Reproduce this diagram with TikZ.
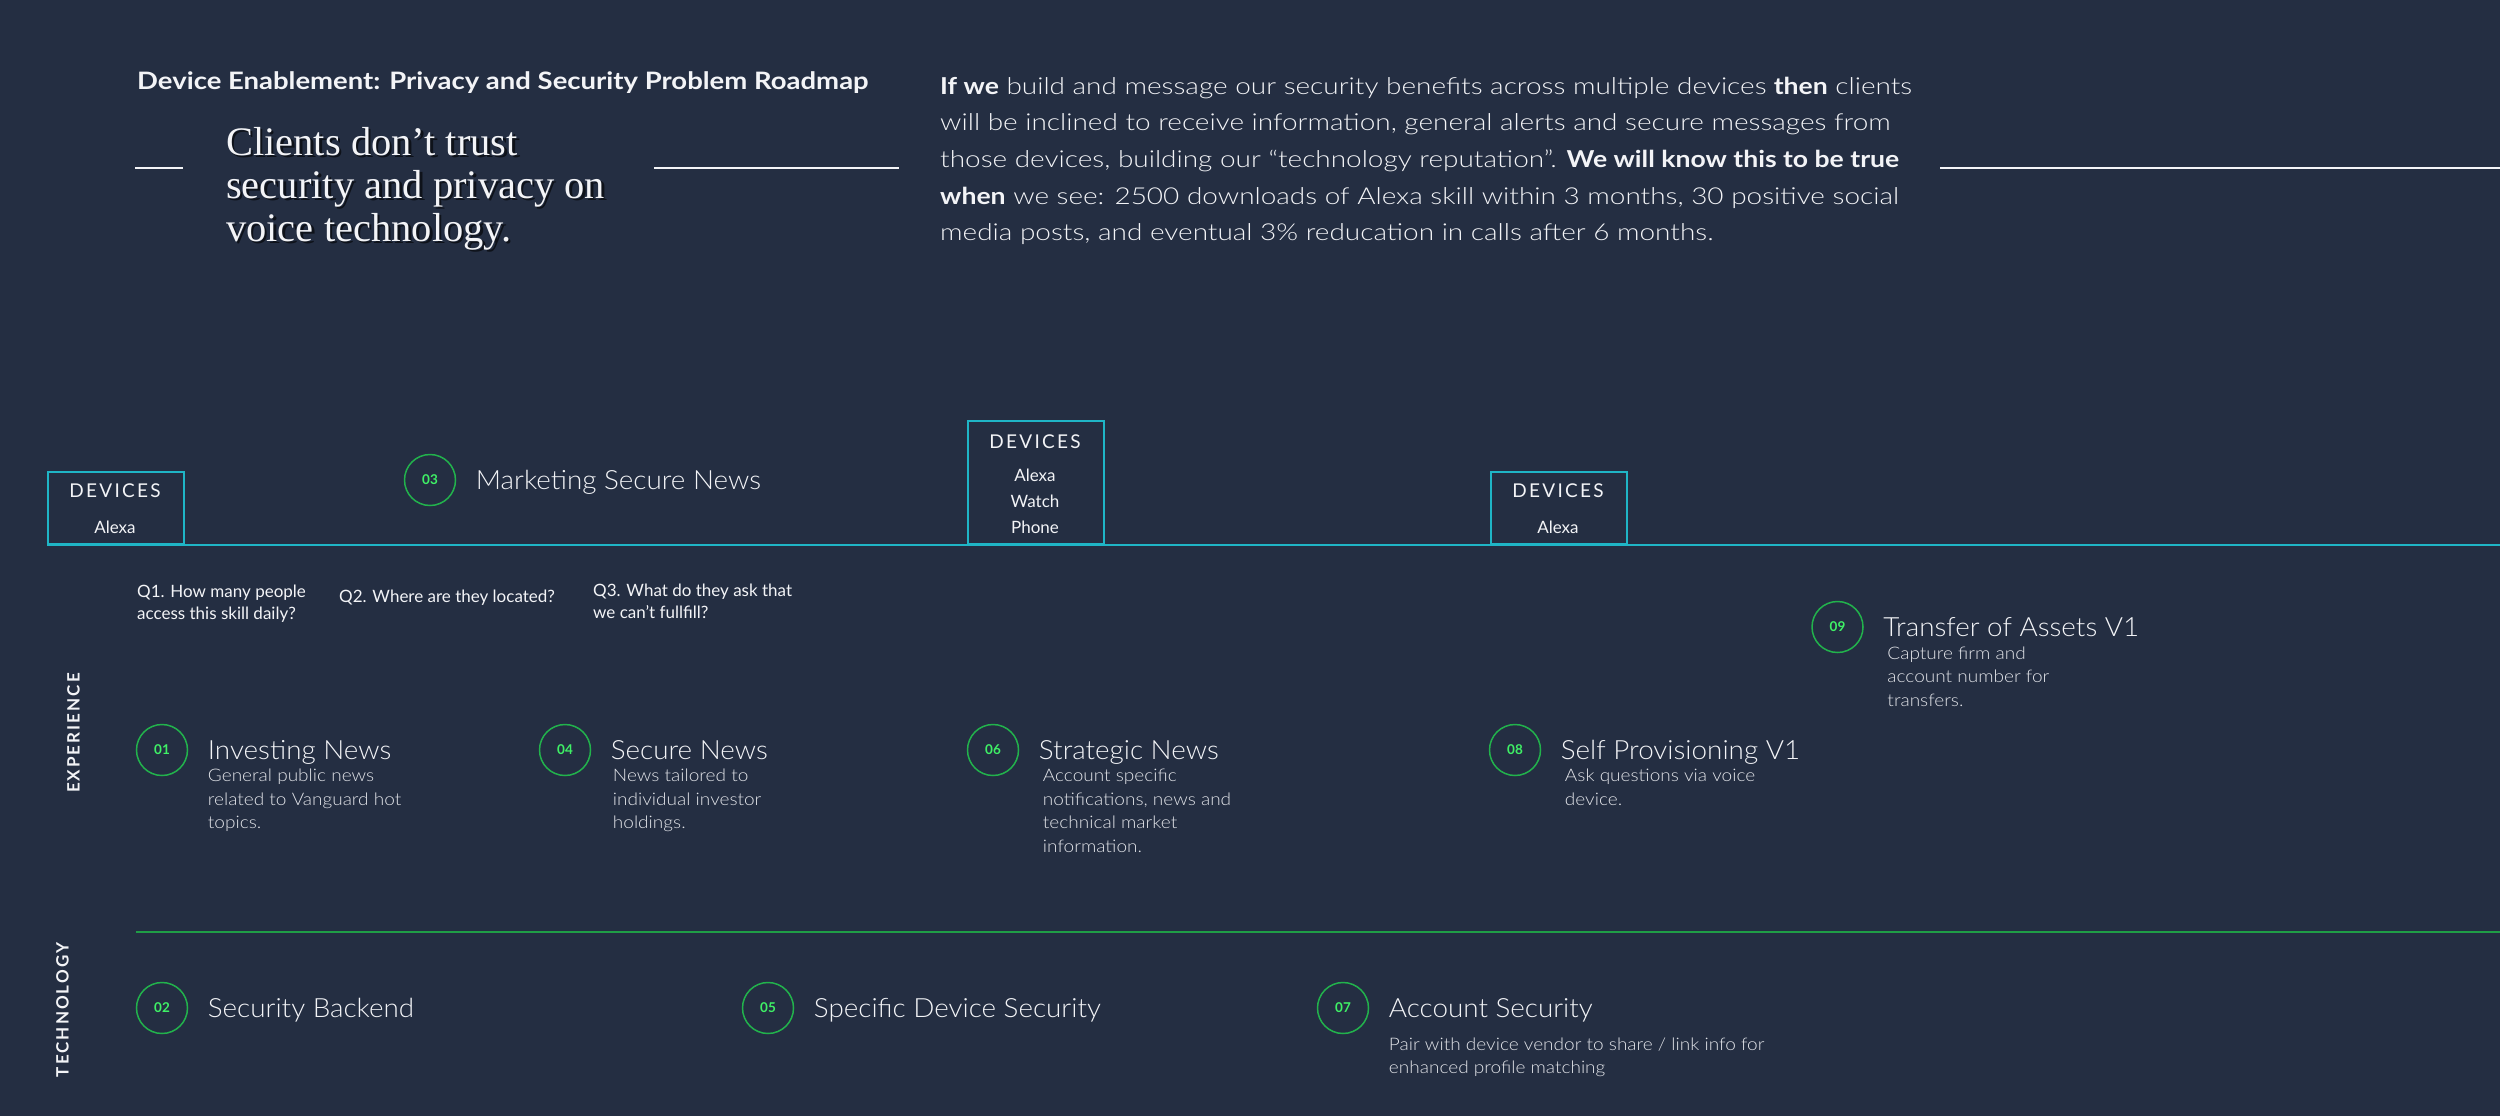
\documentclass[tikz,border=0pt]{standalone}
\usepackage{fontspec}
\setmainfont{Lato}
\newfontfamily\parf{Lato Light}[FakeStretch=1.2]
\newfontfamily\parbf{Lato Bold}[FakeStretch=1.14]
\newfontfamily\titlef{Lato Bold}[FakeStretch=1.145]
\newfontfamily\ttlf{Lato Light}[FakeStretch=1.05]
\newfontfamily\descf{Lato Light}[FakeStretch=1.1]
\newfontfamily\spacedf{Lato}[LetterSpace=12]
\newfontfamily\serifh{Liberation Serif}
\definecolor{bgc}{HTML}{242E42}
\definecolor{cyanc}{HTML}{1FB5C6}
\definecolor{ringc}{HTML}{22B24C}
\definecolor{numc}{HTML}{3FF066}
\definecolor{glinec}{HTML}{1F9E46}
\definecolor{txtc}{HTML}{F3F4F7}
\definecolor{descc}{HTML}{E2E4E9}
\newcommand\stack[1]{\vtop{\halign{##\hfil\cr#1\crcr}}}
\newcommand\hb[1]{{\parbf #1}}
\tikzset{
 ring/.style={circle, draw=ringc, line width=1.5pt, minimum size=51pt, inner sep=0pt, text=numc, font=\bfseries\fontsize{13.5}{15}\selectfont},
 ttl/.style={anchor=base west, inner sep=0pt, text=txtc, font=\ttlf\fontsize{26.5}{30}\selectfont},
 desc/.style={anchor=base west, inner sep=0pt, text=descc, font=\descf\fontsize{17.3}{23.5}\selectfont},
 ques/.style={anchor=base west, inner sep=0pt, text=txtc, font=\fontsize{17}{22.5}\selectfont},
 devbox/.style={draw=cyanc, line width=1.6pt, inner sep=0pt, anchor=south west},
 devhead/.style={anchor=base, inner sep=0pt, text=txtc, font=\spacedf\fontsize{19}{22}\selectfont},
 devitem/.style={anchor=base, inner sep=0pt, text=txtc, font=\fontsize{17}{20}\selectfont},
 lane/.style={rotate=90, inner sep=0pt, text=txtc, font=\spacedf\bfseries\fontsize{17}{20}\selectfont},
 rule/.style={line width=1.6pt, draw=txtc},
}
\begin{document}
\begin{tikzpicture}[x=1pt,y=-1pt]
\useasboundingbox (0,0) rectangle (2500,1116);
\fill[bgc] (0,0) rectangle (2500,1116);

% header
\node[anchor=base west, inner sep=0pt, text=txtc, font=\titlef\fontsize{24}{27}\selectfont] (title) at (137,89) {Device Enablement: Privacy and Security Problem Roadmap};
\node[anchor=base west, inner sep=0pt, text=black, opacity=0.6, font=\serifh\fontsize{40.5}{43}\selectfont] (claimsh) at (228.5,157.5) {\stack{Clients don’t trust\cr security and privacy on\cr voice technology.}};
\node[anchor=base west, inner sep=0pt, text=txtc, font=\serifh\fontsize{40.5}{43}\selectfont] (claim) at (226,155) {\stack{Clients don’t trust\cr security and privacy on\cr voice technology.}};
\draw[rule] (135,168) -- (183,168);
\draw[rule] (654,168) -- (899,168);
\draw[rule] (1940,168) -- (2500,168);
\node[anchor=base west, inner sep=0pt, text=txtc, font=\parf\fontsize{23.3}{36.6}\selectfont] (hyp) at (940,94.3) {\stack{\hb{If we} build and message our security benefits across multiple devices \hb{then} clients\cr will be inclined to receive information, general alerts and secure messages from\cr those devices, building our “technology reputation”. \hb{We will know this to be true}\cr \hb{when} we see: 2500 downloads of Alexa skill within 3 months, 30 positive social\cr media posts, and eventual 3\% reducation in calls after 6 months.}};

% devices boxes and the device line
\node[devbox, minimum width=136pt, minimum height=72.5pt] (dev1) at (47,545) {};
\node[devbox, minimum width=136pt, minimum height=123.5pt] (dev2) at (967,545) {};
\node[devbox, minimum width=136pt, minimum height=72.5pt] (dev3) at (1490,545) {};
\coordinate (cyanend) at (2500,545);
\draw[cyanc, line width=1.6pt] (dev1.south west) -- (cyanend);
\node[devhead] (dh1) at (115,497) {DEVICES};
\node[devitem] (di1) at (115,533) {Alexa};
\node[devhead] (dh2) at (1035,448) {DEVICES};
\node[devitem] (di2a) at (1035,481) {Alexa};
\node[devitem] (di2b) at (1035,507) {Watch};
\node[devitem] (di2c) at (1035,533) {Phone};
\node[devhead] (dh3) at (1558,497) {DEVICES};
\node[devitem] (di3) at (1558,533) {Alexa};

% questions
\node[ques] (q1) at (137,597) {\stack{Q1. How many people\cr access this skill daily?}};
\node[ques] (q2) at (339,602) {Q2. Where are they located?};
\node[ques] (q3) at (593,596) {\stack{Q3. What do they ask that\cr we can’t fullfill?}};

% lanes
\node[lane] (lexp) at (73.5,733) {EXPERIENCE};
\node[lane] (ltech) at (62.5,1010) {TECHNOLOGY};
\coordinate (gstart) at (136,932);
\coordinate (gend) at (2500,932);
\draw[glinec, line width=1.8pt] (gstart) -- (gend);

% items
\node[ring] (c03) at (430,480) {03};
\node[ttl] (t03) at ([xshift=19.5pt,yshift=-9pt]c03.east) {Marketing Secure News};

\node[ring] (c01) at (162,750) {01};
\node[ttl] (t01) at ([xshift=19.5pt,yshift=-9pt]c01.east) {Investing News};
\node[desc] (d01) at ([yshift=-22.7pt]t01.base west) {\stack{General public news\cr related to Vanguard hot\cr topics.}};

\node[ring] (c04) at (565,750) {04};
\node[ttl] (t04) at ([xshift=19.5pt,yshift=-9pt]c04.east) {Secure News};
\node[desc] (d04) at ([xshift=2pt,yshift=-22.7pt]t04.base west) {\stack{News tailored to\cr individual investor\cr holdings.}};

\node[ring] (c06) at (993,750) {06};
\node[ttl] (t06) at ([xshift=19.5pt,yshift=-9pt]c06.east) {Strategic News};
\node[desc] (d06) at ([xshift=4pt,yshift=-22.7pt]t06.base west) {\stack{Account specific\cr notifications, news and\cr technical market\cr information.}};

\node[ring] (c08) at (1515,750) {08};
\node[ttl] (t08) at ([xshift=19.5pt,yshift=-9pt]c08.east) {Self Provisioning V1};
\node[desc] (d08) at ([xshift=4pt,yshift=-22.7pt]t08.base west) {\stack{Ask questions via voice\cr device.}};

\node[ring] (c09) at (1837.5,627) {09};
\node[ttl] (t09) at ([xshift=19.5pt,yshift=-9pt]c09.east) {Transfer of Assets V1};
\node[desc] (d09) at ([xshift=4pt,yshift=-23pt]t09.base west) {\stack{Capture firm and\cr account number for\cr transfers.}};

\node[ring] (c02) at (162,1008) {02};
\node[ttl] (t02) at ([xshift=19.5pt,yshift=-9pt]c02.east) {Security Backend};

\node[ring] (c05) at (768,1008) {05};
\node[ttl] (t05) at ([xshift=19.5pt,yshift=-9pt]c05.east) {Specific Device Security};

\node[ring] (c07) at (1343,1008) {07};
\node[ttl] (t07) at ([xshift=19.5pt,yshift=-9pt]c07.east) {Account Security};
\node[desc] (d07) at ([yshift=-33.3pt]t07.base west) {\stack{Pair with device vendor to share / link info for\cr enhanced profile matching}};
\end{tikzpicture}
\end{document}
